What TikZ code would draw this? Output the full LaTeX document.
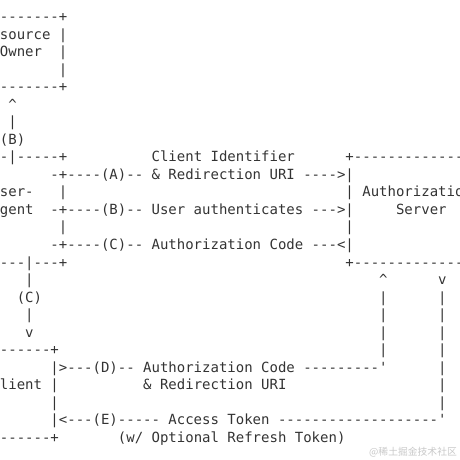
\documentclass[tikz,border=0pt]{standalone}
\usepackage{fontspec}
\setmonofont{DejaVu Sans Mono}
\newfontfamily\markfont{Noto Sans CJK SC}

\definecolor{asciitext}{HTML}{333333}
\definecolor{marktext}{HTML}{C8C8C8}

\begin{document}
\begin{tikzpicture} [
    x = 8.4287bp,
    y = -17.54bp,
    every node/.style = {inner sep=0pt, anchor=base west},
    ascii/.style = {text=asciitext,
        font=\ttfamily\fontsize{14bp}{17.54bp}\selectfont}]

\useasboundingbox (76.16bp,21.5bp) rectangle ++(460bp,-460bp);
\clip (76.16bp,21.5bp) rectangle ++(460bp,-460bp);

% Resource Owner
\node (l0)  [ascii] at (5,0)  {+----------+};
\node (l1a) [ascii] at (5,1)  {|};
\node (l1b) [ascii] at (7,1)  {Resource};
\node (l1c) [ascii] at (16,1) {|};
\node (l2a) [ascii] at (5,2)  {|};
\node (l2b) [ascii] at (9,2)  {Owner};
\node (l2c) [ascii] at (16,2) {|};
\node (l3a) [ascii] at (5,3)  {|};
\node (l3b) [ascii] at (16,3) {|};
\node (l4)  [ascii] at (5,4)  {+----------+};
\node (l5)  [ascii] at (10,5) {\textasciicircum};
\node (l6)  [ascii] at (10,6) {|};
\node (l7)  [ascii] at (9,7)  {(B)};

% User-Agent and Authorization Server
\node (l8a)  [ascii] at (5,8)   {+----|-----+};
\node (l8b)  [ascii] at (27,8)  {Client Identifier};
\node (l8c)  [ascii] at (50,8)  {+---------------+};
\node (l9a)  [ascii] at (5,9)   {|};
\node (l9b)  [ascii] at (15,9)  {-+----(A)-- \& Redirection URI ---->|};
\node (l9c)  [ascii] at (66,9)  {|};
\node (l10a) [ascii] at (5,10)  {|};
\node (l10b) [ascii] at (8,10)  {User-};
\node (l10c) [ascii] at (16,10) {|};
\node (l10d) [ascii] at (50,10) {| Authorization |};
\node (l11a) [ascii] at (5,11)  {|};
\node (l11b) [ascii] at (8,11)  {Agent};
\node (l11c) [ascii] at (15,11) {-+----(B)-- User authenticates --->|};
\node (l11d) [ascii] at (56,11) {Server};
\node (l11e) [ascii] at (66,11) {|};
\node (l12a) [ascii] at (5,12)  {|};
\node (l12b) [ascii] at (16,12) {|};
\node (l12c) [ascii] at (50,12) {|};
\node (l12d) [ascii] at (66,12) {|};
\node (l13a) [ascii] at (5,13)  {|};
\node (l13b) [ascii] at (15,13) {-+----(C)-- Authorization Code ---<|};
\node (l13c) [ascii] at (66,13) {|};
\node (l14a) [ascii] at (5,14)  {+-|----|---+};
\node (l14b) [ascii] at (50,14) {+---------------+};

% Links down to the Client
\node (l15a) [ascii] at (7,15)  {|};
\node (l15b) [ascii] at (12,15) {|};
\node (l15c) [ascii] at (54,15) {\textasciicircum};
\node (l15d) [ascii] at (61,15) {v};
\node (l16a) [ascii] at (6,16)  {(A)};
\node (l16b) [ascii] at (11,16) {(C)};
\node (l16c) [ascii] at (54,16) {|};
\node (l16d) [ascii] at (61,16) {|};
\node (l17a) [ascii] at (7,17)  {|};
\node (l17b) [ascii] at (12,17) {|};
\node (l17c) [ascii] at (54,17) {|};
\node (l17d) [ascii] at (61,17) {|};
\node (l18a) [ascii] at (7,18)  {\textasciicircum};
\node (l18b) [ascii] at (12,18) {v};
\node (l18c) [ascii] at (54,18) {|};
\node (l18d) [ascii] at (61,18) {|};

% Client
\node (l19a) [ascii] at (5,19)  {+---------+};
\node (l19b) [ascii] at (54,19) {|};
\node (l19c) [ascii] at (61,19) {|};
\node (l20a) [ascii] at (5,20)  {|};
\node (l20b) [ascii] at (15,20) {|>---(D)-- Authorization Code ---------'};
\node (l20c) [ascii] at (61,20) {|};
\node (l21a) [ascii] at (5,21)  {|};
\node (l21b) [ascii] at (8,21)  {Client};
\node (l21c) [ascii] at (15,21) {|};
\node (l21d) [ascii] at (26,21) {\& Redirection URI};
\node (l21e) [ascii] at (61,21) {|};
\node (l22a) [ascii] at (5,22)  {|};
\node (l22b) [ascii] at (15,22) {|};
\node (l22c) [ascii] at (61,22) {|};
\node (l23a) [ascii] at (5,23)  {|};
\node (l23b) [ascii] at (15,23) {|<---(E)----- Access Token -------------------'};
\node (l24a) [ascii] at (5,24)  {+---------+};
\node (l24b) [ascii] at (23,24) {(w/ Optional Refresh Token)};

% Watermark
\node (mark) [anchor=center, text=marktext,
    font=\markfont\fontsize{9.8bp}{12bp}\selectfont]
    at (489.2bp,-430.2bp) {@稀土掘金技术社区};
\end{tikzpicture}
\end{document}
